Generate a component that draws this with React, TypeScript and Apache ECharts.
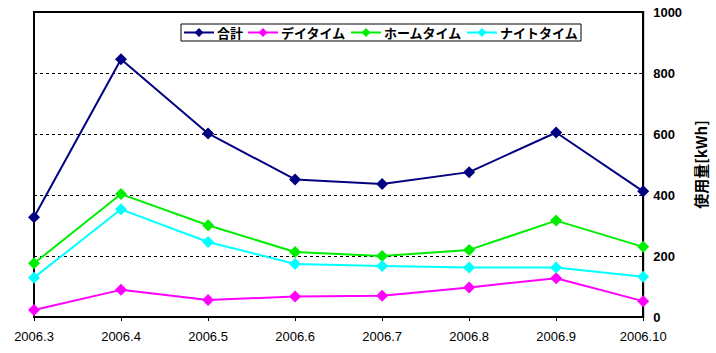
import React, { useEffect, useRef } from "react";
import * as echarts from "echarts";

const categories = ["2006.3", "2006.4", "2006.5", "2006.6", "2006.7", "2006.8", "2006.9", "2006.10"];
const totalValues = [327, 845, 602, 451, 436, 475, 605, 412];
const dayValues = [23, 89, 56, 67, 70, 97, 127, 52];
const homeValues = [176, 403, 301, 213, 200, 220, 316, 230];
const nightValues = [129, 353, 246, 174, 167, 162, 162, 132];
const seriesNames = ["合計", "デイタイム", "ホームタイム", "ナイトタイム"];
const seriesColors = ["#000080", "#ff00ff", "#00ee00", "#00ffff"];
const axisName = "使用量[kWh]";

export default function App() {
  const ref = useRef<HTMLDivElement>(null);
  useEffect(() => {
    if (!ref.current) return;
    const chart = echarts.init(ref.current, undefined, { renderer: "svg" });
    const dataSets = [totalValues, dayValues, homeValues, nightValues];
    chart.setOption({
      animation: false,
      backgroundColor: "#ffffff",
      textStyle: { fontFamily: "'Liberation Sans', 'Noto Sans CJK JP', sans-serif" },
      grid: {
        left: 34,
        right: 72,
        top: 12,
        bottom: 36,
        show: true,
        borderColor: "#000",
        borderWidth: 2,
        backgroundColor: "transparent",
      },
      legend: {
        data: seriesNames,
        left: 181,
        top: 24,
        itemWidth: 30,
        itemHeight: 11,
        itemGap: 4,
        padding: [2, 3, 2, 2],
        borderColor: "#000",
        borderWidth: 1,
        backgroundColor: "#fff",
        textStyle: {
          fontFamily: "'Noto Sans CJK JP', sans-serif",
          fontSize: 13,
          fontWeight: "bold",
          color: "#000",
          padding: [0, 0, 0, -2],
        },
      },
      xAxis: {
        type: "category",
        data: categories,
        boundaryGap: false,
        axisLine: { lineStyle: { color: "#000", width: 2 } },
        axisTick: { show: true, alignWithLabel: true, length: 4, lineStyle: { color: "#000" } },
        axisLabel: { color: "#000", fontSize: 13, margin: 13, interval: 0 },
        splitLine: { show: false },
      },
      yAxis: {
        type: "value",
        position: "right",
        min: 0,
        max: 1000,
        interval: 200,
        name: axisName,
        nameLocation: "middle",
        nameRotate: 90,
        nameGap: 47,
        nameTextStyle: {
          color: "#000",
          fontSize: 15,
          fontWeight: "bold",
          fontFamily: "'Noto Sans CJK JP', sans-serif",
        },
        axisLine: { show: true, lineStyle: { color: "#000", width: 2 } },
        axisTick: { show: true, inside: true, length: 4, lineStyle: { color: "#000" } },
        axisLabel: {
          color: "#000",
          fontSize: 13,
          margin: 10,
          fontWeight: "bold",
          formatter: (v: number) => String(v),
        },
        splitLine: { show: true, lineStyle: { color: "#000", type: [3, 3], width: 1 } },
      },
      series: seriesNames.map((name, i) => ({
        name,
        type: "line",
        data: dataSets[i],
        symbol: "diamond",
        symbolSize: 12,
        color: seriesColors[i],
        lineStyle: { width: 2, color: seriesColors[i] },
        itemStyle: { color: seriesColors[i] },
      })),
    });
    return () => chart.dispose();
  }, []);
  return <div ref={ref} style={{ width: 716, height: 353, position: "absolute", left: 0, top: 0 }} />;
}
